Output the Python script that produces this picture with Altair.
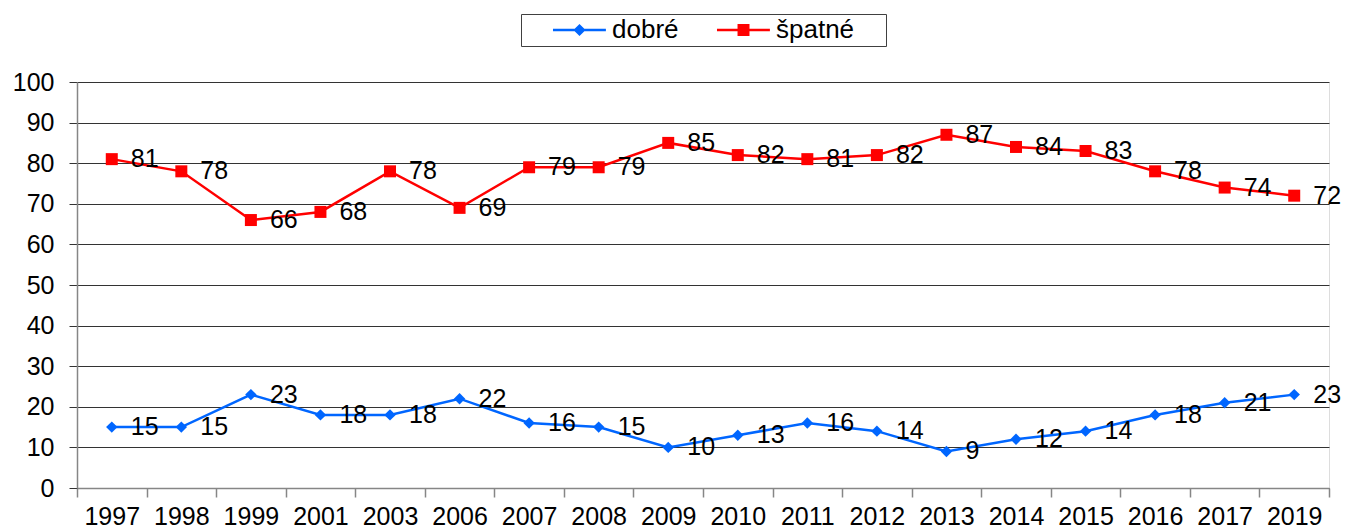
import altair as alt
import pandas as pd

years = ["1997", "1998", "1999", "2001", "2003", "2006", "2007", "2008", "2009",
         "2010", "2011", "2012", "2013", "2014", "2015", "2016", "2017", "2019"]
dobre = [15, 15, 23, 18, 18, 22, 16, 15, 10, 13, 16, 14, 9, 12, 14, 18, 21, 23]
spatne = [81, 78, 66, 68, 78, 69, 79, 79, 85, 82, 81, 82, 87, 84, 83, 78, 74, 72]
series = ["dobré", "špatné"]
colors = ["#0066ff", "#ff0000"]

rows = []
for y, d, s in zip(years, dobre, spatne):
    rows.append({"rok": y, "serie": series[0], "hodnota": d})
    rows.append({"rok": y, "serie": series[1], "hodnota": s})
df = pd.DataFrame(rows)

FONT = "Liberation Sans"

x = alt.X("rok:N", sort=years, title=None,
          scale=alt.Scale(paddingInner=0, paddingOuter=0),
          axis=alt.Axis(tickBand="extent", labelAngle=0, grid=False,
                        labelFontSize=25, labelColor="#000", labelFont=FONT,
                        tickSize=9, tickColor="#868686", domainColor="#868686",
                        labelPadding=7, tickWidth=1.5, domainWidth=1.5))
y = alt.Y("hodnota:Q", title=None,
          scale=alt.Scale(domain=[0, 100], nice=False),
          axis=alt.Axis(values=list(range(0, 101, 10)), grid=True,
                        gridColor="#333333", gridWidth=1,
                        labelFontSize=25, labelColor="#000", labelFont=FONT,
                        tickSize=8, tickColor="#333333", domainColor="#868686",
                        domainWidth=1.5, labelPadding=15))
cscale = alt.Scale(domain=series, range=colors)

legend_paths = [
    "M-1,-1L-1,-1Z M1.23,-0.096H5.3V0.096H1.23Z M2.8,0L3.27,-0.47L3.74,0L3.27,0.47Z",
    "M-1,-1L-1,-1Z M14,0L14,0Z M1.23,-0.096H5.3V0.096H1.23Z M2.81,-0.46H3.73V0.46H2.81Z",
]
leg = alt.Legend(title=None, orient="none", direction="horizontal",
                 legendX=444, legendY=-68,
                 labelFontSize=26, labelFont=FONT, labelColor="#000",
                 labelOffset=62, columnPadding=9,
                 symbolSize=676, symbolOpacity=1, symbolStrokeWidth=0,
                 strokeColor="#404040", padding=3, fillColor="#ffffff")

base = alt.Chart(df)
line = base.mark_line(strokeWidth=2.5).encode(
    x=x, y=y, color=alt.Color("serie:N", scale=cscale, legend=None))
pts = base.mark_point(filled=True, opacity=1).encode(
    x=x, y=y,
    color=alt.Color("serie:N", scale=cscale, legend=None),
    shape=alt.Shape("serie:N", scale=alt.Scale(domain=series, range=["diamond", "square"]), legend=None),
    size=alt.Size("serie:N", scale=alt.Scale(domain=series, range=[130, 144]), legend=None),
)
legend_layer = base.mark_point(filled=True, opacity=0).encode(
    x=x, y=y,
    color=alt.Color("serie:N", scale=cscale, legend=leg),
    shape=alt.Shape("serie:N", scale=alt.Scale(domain=series, range=legend_paths), legend=leg),
)
labels = base.mark_text(align="left", baseline="middle", dx=19, fontSize=25,
                        font=FONT, color="#000").encode(
    x=x, y=y, text="hodnota:Q")

chart = alt.layer(line, pts, labels, legend_layer).resolve_scale(
    shape="independent", color="independent", size="independent"
).properties(
    width=1252, height=406,
    autosize=alt.AutoSizeParams(type="none"),
    padding={"left": 69, "top": 74, "right": 12, "bottom": 45},
).configure_view(stroke=None).configure(font=FONT)

chart.save("out.html", embed_options={"renderer": "svg", "actions": False})
